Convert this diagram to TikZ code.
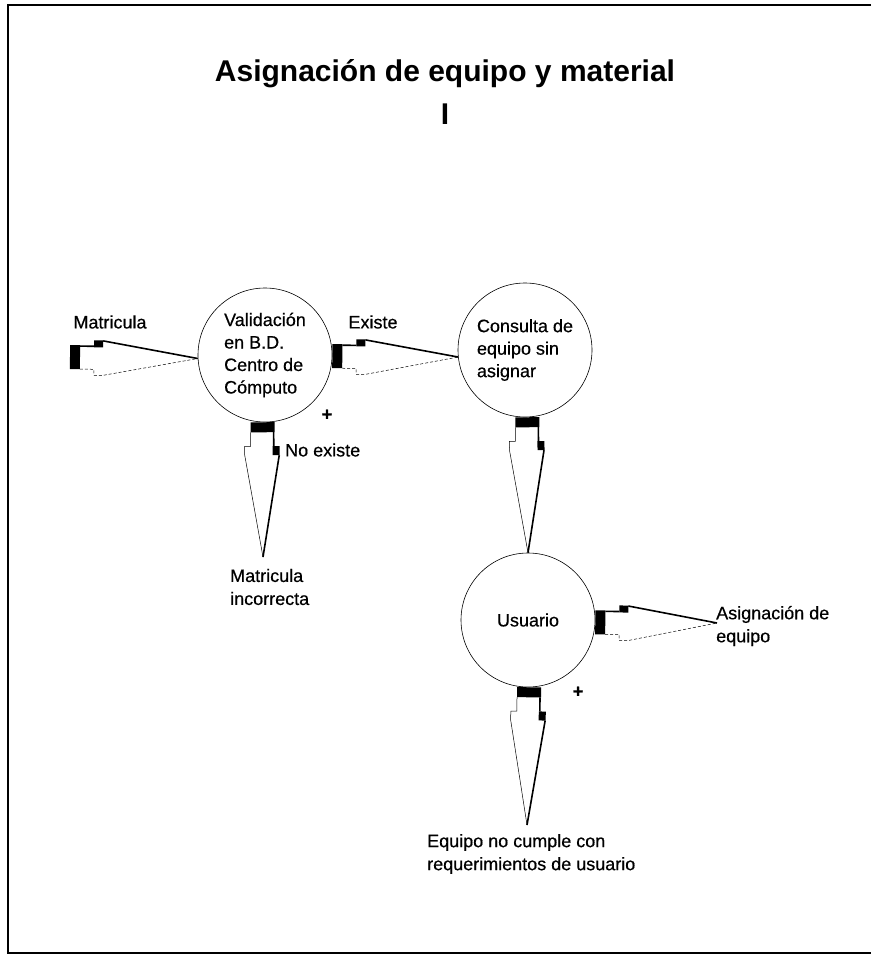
\documentclass[tikz,border=0pt]{standalone}
\usepackage{fontspec}
\setmainfont{Liberation Sans}
\newfontfamily\scanfont{Liberation Sans}[FakeBold=0.5]
\usetikzlibrary{calc}
\tikzset{
  proc/.style={circle, draw, line width=0.6pt, minimum size=134pt, inner sep=0pt,
    align=left, font=\scanfont\fontsize{18}{22.5}\selectfont},
  lab/.style={inner sep=1pt, align=left, font=\scanfont\fontsize{18}{23}\selectfont},
  titulo/.style={inner sep=0pt, font=\fontsize{30}{34}\selectfont\bfseries},
}
% flecha en cuna: #2 base (bloque negro), #3 punta
\newcommand{\wedgeflow}[3][]{%
  \path let \p1=($(#3)-(#2)$) in
    \pgfextra{\pgfmathparse{atan2(\y1,\x1)}\xdef\wang{\pgfmathresult}%
      \pgfmathparse{veclen(\x1,\y1)}\xdef\wlen{\pgfmathresult}};
  \begin{scope}[shift={(#2)}, rotate=\wang]
    \fill (0,-12) rectangle (10,12);
    \fill (24,10) rectangle (33,17);
    \draw[line width=1.6pt] (10,11) -- (24,11) (33,16.5) -- (\wlen,0);
    \draw[line width=0.5pt, #1] (10,-12) -- (24,-12) -- (24,-18) -- (33,-18) -- (\wlen,0);
  \end{scope}}

\begin{document}
\begin{tikzpicture}[x=1pt,y=1pt]
\useasboundingbox (0,0) rectangle (871,-957);
% marco
\draw[line width=2pt] (871,-5) -- (8,-5) -- (8,-953) -- (871,-953);

\node[titulo, anchor=base] (tit) at (445,-82) {Asignación de equipo y material};
\node[titulo, anchor=base] (nivel) at (445,-125) {I};

\node[proc] (val) at (265,-355) {Validación\\en B.D.\\Centro de\\Cómputo};
\node[proc] (con) at (525,-350) {Consulta de\\equipo sin\\asignar};
\node[proc] (usu) at (528,-620) {Usuario};

\coordinate (matin) at (70,-357);
\coordinate (noex) at (263,-557);
\coordinate (asig) at (717,-623);
\coordinate (nocum) at (527,-825);

\wedgeflow[densely dashed]{matin}{val.183}
\wedgeflow[densely dashed]{val.-1}{con.186}
\wedgeflow{val.-92}{noex}
\wedgeflow{con.-88}{usu.north}
\wedgeflow[densely dashed]{usu.-2}{asig}
\wedgeflow{usu.-89}{nocum}

\node[lab] (lmat) at (110,-322) {Matricula};
\node[lab] (lexi) at (373,-322) {Existe};
\node[lab, anchor=west] (lnoex) at (284,-450) {No existe};
\node[lab] (mas1) at (327,-415) {\textbf{+}};
\node[lab, anchor=west] (lmatinc) at (229,-587) {Matricula\\incorrecta};
\node[lab, anchor=west] (lasig) at (715,-626) {Asignación de\\equipo};
\node[lab] (mas2) at (578,-692) {\textbf{+}};
\node[lab, anchor=west] (lnocum) at (426,-854) {Equipo no cumple con\\requerimientos de usuario};
\end{tikzpicture}
\end{document}
